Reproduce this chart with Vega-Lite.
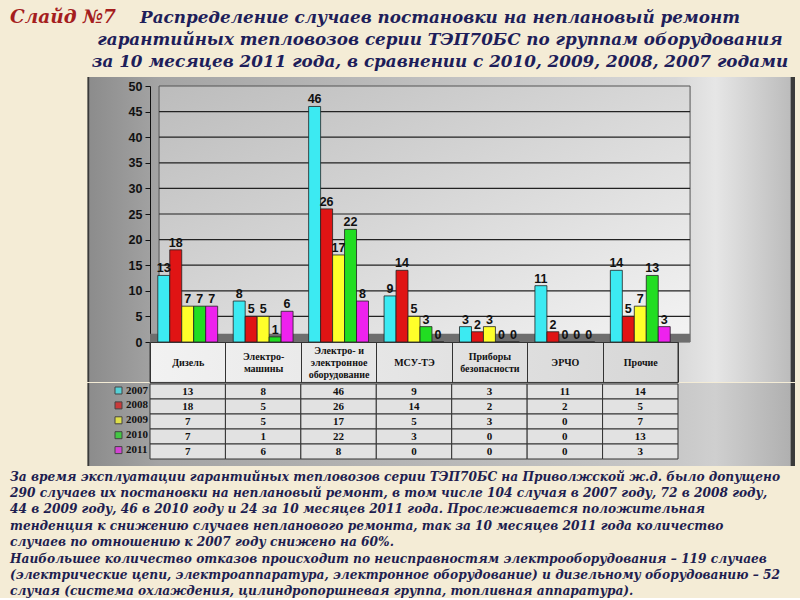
{
  "$schema": "https://vega.github.io/schema/vega-lite/v6.json",
  "background": "#F4ECD6",
  "padding": {"left": 0, "top": 8, "right": 5, "bottom": 0},
  "config": {"view": {"stroke": null}, "font": "DejaVu Serif", "axisY": {"labelOverlap": false}},
  "spacing": 0,
  "resolve": {
    "scale": {"x": "independent", "y": "independent", "color": "independent", "xOffset": "independent"},
    "legend": {"color": "independent"}
  },
  "datasets": {
    "counts": [
      {"category": "Дизель", "year": "2007", "value": 13},
      {"category": "Дизель", "year": "2008", "value": 18},
      {"category": "Дизель", "year": "2009", "value": 7},
      {"category": "Дизель", "year": "2010", "value": 7},
      {"category": "Дизель", "year": "2011", "value": 7},
      {"category": "Электро-машины", "year": "2007", "value": 8},
      {"category": "Электро-машины", "year": "2008", "value": 5},
      {"category": "Электро-машины", "year": "2009", "value": 5},
      {"category": "Электро-машины", "year": "2010", "value": 1},
      {"category": "Электро-машины", "year": "2011", "value": 6},
      {"category": "Электро- и электронное оборудование", "year": "2007", "value": 46},
      {"category": "Электро- и электронное оборудование", "year": "2008", "value": 26},
      {"category": "Электро- и электронное оборудование", "year": "2009", "value": 17},
      {"category": "Электро- и электронное оборудование", "year": "2010", "value": 22},
      {"category": "Электро- и электронное оборудование", "year": "2011", "value": 8},
      {"category": "МСУ-ТЭ", "year": "2007", "value": 9},
      {"category": "МСУ-ТЭ", "year": "2008", "value": 14},
      {"category": "МСУ-ТЭ", "year": "2009", "value": 5},
      {"category": "МСУ-ТЭ", "year": "2010", "value": 3},
      {"category": "МСУ-ТЭ", "year": "2011", "value": 0},
      {"category": "Приборы безопасности", "year": "2007", "value": 3},
      {"category": "Приборы безопасности", "year": "2008", "value": 2},
      {"category": "Приборы безопасности", "year": "2009", "value": 3},
      {"category": "Приборы безопасности", "year": "2010", "value": 0},
      {"category": "Приборы безопасности", "year": "2011", "value": 0},
      {"category": "ЭРЧО", "year": "2007", "value": 11},
      {"category": "ЭРЧО", "year": "2008", "value": 2},
      {"category": "ЭРЧО", "year": "2009", "value": 0},
      {"category": "ЭРЧО", "year": "2010", "value": 0},
      {"category": "ЭРЧО", "year": "2011", "value": 0},
      {"category": "Прочие", "year": "2007", "value": 14},
      {"category": "Прочие", "year": "2008", "value": 5},
      {"category": "Прочие", "year": "2009", "value": 7},
      {"category": "Прочие", "year": "2010", "value": 13},
      {"category": "Прочие", "year": "2011", "value": 3}
    ],
    "gridlines": [
      {"tick": 5}, {"tick": 10}, {"tick": 15}, {"tick": 20}, {"tick": 25},
      {"tick": 30}, {"tick": 35}, {"tick": 40}, {"tick": 45}
    ]
  },
  "vconcat": [
    {
      "spacing": 0,
      "bounds": "flush",
      "hconcat": [
        {
          "width": 92, "height": 1,
          "data": {"values": [{}]},
          "mark": {"type": "text"},
          "title": {
            "text": ["Слайд №7", " ", " "],
            "anchor": "start", "dx": 10, "offset": -5,
            "color": "#A51E1E", "font": "DejaVu Serif", "fontStyle": "italic", "fontWeight": "bold",
            "fontSize": 18.5, "lineHeight": 22
          }
        },
        {
          "width": 696, "height": 1,
          "data": {"values": [{}]},
          "mark": {"type": "text"},
          "title": {
            "text": [
              "Распределение случаев постановки на неплановый ремонт",
              "гарантийных тепловозов серии ТЭП70БС по группам оборудования",
              "за 10 месяцев 2011 года, в сравнении с 2010, 2009, 2008, 2007 годами"
            ],
            "anchor": "middle", "frame": "group", "offset": -5,
            "color": "#1E1E5A", "font": "DejaVu Serif", "fontStyle": "italic", "fontWeight": "bold",
            "fontSize": 16.8, "lineHeight": 22
          }
        }
      ]
    },
    {
      "width": 795, "height": 305,
      "view": {
        "stroke": null,
        "fill": {"gradient": "linear", "x1": 0, "y1": 0, "x2": 1, "y2": 0, "stops": [
          {"offset": 0, "color": "#F4ECD6"}, {"offset": 0.11, "color": "#F4ECD6"},
          {"offset": 0.1101, "color": "#3a3a3a"}, {"offset": 0.1125, "color": "#3a3a3a"},
          {"offset": 0.1126, "color": "#8c8c8c"}, {"offset": 0.2, "color": "#a4a4a4"},
          {"offset": 0.85, "color": "#d8d8d8"}, {"offset": 0.9, "color": "#e6e6e6"},
          {"offset": 0.994, "color": "#bcbcbc"}, {"offset": 0.995, "color": "#3a3a3a"},
          {"offset": 1, "color": "#3a3a3a"}
        ]}
      },
      "layer": [
        {
          "data": {"values": [{}]},
          "mark": {"type": "rect", "stroke": "#555555", "strokeWidth": 1,
            "fill": {"gradient": "linear", "x1": 0, "y1": 0, "x2": 1, "y2": 1, "stops": [
              {"offset": 0, "color": "#bcbcbc"}, {"offset": 1, "color": "#f4f4f4"}
            ]}},
          "encoding": {
            "x": {
              "datum": "Дизель", "type": "nominal", "bandPosition": 0.12,
              "scale": {
                "domain": ["Дизель", "Электро-машины", "Электро- и электронное оборудование", "МСУ-ТЭ", "Приборы безопасности", "ЭРЧО", "Прочие"],
                "range": [150, 678], "paddingInner": 0, "paddingOuter": 0
              },
              "axis": {
                "title": null, "orient": "bottom", "offset": -40, "zindex": 1, "bandPosition": 0.5,
                "tickBand": "extent", "tickSize": 40, "tickColor": "#333333", "tickWidth": 1,
                "domainColor": "#333333", "domainWidth": 1,
                "labelAngle": 0, "labelAlign": "center", "labelPadding": -25.4,
                "labelBaseline": {
                  "condition": [
                    {"test": "datum.value == 'Электро- и электронное оборудование'", "value": "line-bottom"},
                    {"test": "datum.value == 'Электро-машины' || datum.value == 'Приборы безопасности'", "value": "middle"}
                  ],
                  "value": "line-top"
                },
                "labelFont": "Liberation Serif", "labelFontWeight": "bold", "labelFontSize": 10,
                "labelLineHeight": 12, "labelColor": "#111111", "labelOverlap": false, "labelLimit": 0,
                "labelExpr": "datum.value == 'Электро-машины' ? ['Электро-', 'машины'] : datum.value == 'Электро- и электронное оборудование' ? ['Электро- и', 'электронное', 'оборудование'] : datum.value == 'Приборы безопасности' ? ['Приборы', 'безопасности'] : datum.label"
              }
            },
            "x2": {"datum": "Прочие", "bandPosition": 1.16},
            "y": {
              "datum": 50, "type": "quantitative",
              "scale": {"domain": [0, 50], "range": [265, 9], "nice": false},
              "axis": {
                "title": null, "orient": "left", "offset": -150, "values": [0, 5, 10, 15, 20, 25, 30, 35, 40, 45, 50], "tickCount": 11,
                "labelOverlap": false, "labelBound": false, "labelSeparation": 0, "grid": false, "tickSize": 5, "tickColor": "#111111", "domainColor": "#111111",
                "labelFont": "Liberation Sans", "labelFontWeight": "bold", "labelFontSize": 12.5, "labelColor": "#111111", "labelPadding": 3
              }
            },
            "y2": {"datum": 0}
          }
        },
        {
          "data": {"values": [{}]},
          "mark": {"type": "rect", "stroke": "#333333", "strokeWidth": 1,
            "fill": {"gradient": "linear", "x1": 0, "y1": 0, "x2": 1, "y2": 0, "stops": [
              {"offset": 0, "color": "#f2f2f2"}, {"offset": 1, "color": "#d6d6d6"}
            ]}},
          "encoding": {
            "x": {"datum": "Дизель", "type": "nominal", "bandPosition": 0},
            "x2": {"datum": "Прочие", "bandPosition": 1},
            "y": {"datum": 0, "type": "quantitative"},
            "y2": {"datum": -7.9}
          }
        },
        {
          "data": {"name": "gridlines"},
          "mark": {"type": "rect", "stroke": "#222222", "strokeWidth": 1.2, "fill": null},
          "encoding": {
            "x": {"datum": "Дизель", "type": "nominal", "bandPosition": 0.12},
            "x2": {"datum": "Прочие", "bandPosition": 1.16},
            "y": {"field": "tick", "type": "quantitative"},
            "y2": {"field": "tick"}
          }
        },
        {
          "data": {"values": [{}]},
          "mark": {"type": "rect", "fill": "#6e6e6e"},
          "encoding": {
            "x": {"datum": "Дизель", "type": "nominal", "bandPosition": 0},
            "x2": {"datum": "Прочие", "bandPosition": 1.16},
            "y": {"datum": 1.6, "type": "quantitative"},
            "y2": {"datum": 0}
          }
        },
        {
          "data": {"name": "counts"},
          "mark": {"type": "bar", "stroke": "#222222", "strokeWidth": 0.8},
          "encoding": {
            "x": {"field": "category", "type": "nominal"},
            "xOffset": {
              "field": "year", "type": "nominal",
              "scale": {"domain": ["2007", "2008", "2009", "2010", "2011"], "paddingInner": 0, "paddingOuter": 0.65}
            },
            "y": {"field": "value", "type": "quantitative"},
            "color": {
              "field": "year", "type": "nominal",
              "scale": {"domain": ["2007", "2008", "2009", "2010", "2011"], "range": ["#3CEAF2", "#E01414", "#FFFF2A", "#22DD22", "#EE22EE"]},
              "legend": null
            }
          }
        },
        {
          "data": {"name": "counts"},
          "mark": {"type": "text", "dy": -7, "font": "Liberation Sans", "fontWeight": "bold", "fontSize": 12.5, "color": "#111111"},
          "encoding": {
            "x": {"field": "category", "type": "nominal"},
            "xOffset": {"field": "year", "type": "nominal"},
            "y": {"field": "value", "type": "quantitative"},
            "text": {"field": "value", "type": "quantitative"}
          }
        }
      ]
    },
    {
      "width": 795, "height": 83,
      "view": {
        "stroke": null,
        "fill": {"gradient": "linear", "x1": 0, "y1": 0, "x2": 1, "y2": 0, "stops": [
          {"offset": 0, "color": "#F4ECD6"}, {"offset": 0.11, "color": "#F4ECD6"},
          {"offset": 0.1101, "color": "#3a3a3a"}, {"offset": 0.1125, "color": "#3a3a3a"},
          {"offset": 0.1126, "color": "#8c8c8c"}, {"offset": 0.2, "color": "#a4a4a4"},
          {"offset": 0.85, "color": "#c8c8c8"}, {"offset": 0.9, "color": "#cfcfcf"},
          {"offset": 0.994, "color": "#b0b0b0"}, {"offset": 0.995, "color": "#3a3a3a"},
          {"offset": 1, "color": "#3a3a3a"}
        ]}
      },
      "data": {"name": "counts"},
      "layer": [
        {
          "mark": {"type": "rect", "fill": "#e2e2e2", "stroke": "#333333", "strokeWidth": 1},
          "encoding": {
            "x": {
              "field": "category", "type": "nominal", "axis": null,
              "scale": {
                "domain": ["Дизель", "Электро-машины", "Электро- и электронное оборудование", "МСУ-ТЭ", "Приборы безопасности", "ЭРЧО", "Прочие"],
                "range": [150, 678], "paddingInner": 0, "paddingOuter": 0
              }
            },
            "y": {
              "field": "year", "type": "nominal", "axis": null,
              "scale": {"domain": ["2007", "2008", "2009", "2010", "2011"], "range": [1, 76], "paddingInner": 0, "paddingOuter": 0}
            }
          }
        },
        {
          "mark": {"type": "text", "font": "Liberation Serif", "fontWeight": "bold", "fontSize": 11, "color": "#111111"},
          "encoding": {
            "x": {"field": "category", "type": "nominal"},
            "y": {"field": "year", "type": "nominal"},
            "text": {"field": "value", "type": "quantitative"}
          }
        },
        {
          "mark": {"type": "point", "shape": "square", "filled": true, "size": 0},
          "encoding": {
            "x": {"field": "category", "type": "nominal"},
            "y": {"field": "year", "type": "nominal"},
            "color": {
              "field": "year", "type": "nominal",
              "scale": {"domain": ["2007", "2008", "2009", "2010", "2011"], "range": ["#3CEAF2", "#E01414", "#FFFF2A", "#22DD22", "#EE22EE"]},
              "legend": {
                "orient": "left", "offset": -150, "title": null, "padding": 2, "rowPadding": 2.9,
                "symbolType": "square", "symbolSize": 49, "symbolStrokeColor": "#222222", "symbolStrokeWidth": 1,
                "labelFont": "Liberation Serif", "labelFontWeight": "bold", "labelFontSize": 11, "labelColor": "#111111", "labelOffset": 2
              }
            }
          }
        }
      ]
    },
    {
      "width": 795, "height": 1,
      "data": {"values": [{}]},
      "mark": {"type": "text"},
      "title": {
        "text": [
          "За время эксплуатации гарантийных тепловозов серии ТЭП70БС на Приволжской ж.д. было допущено",
          "290 случаев их постановки на неплановый ремонт,  в том числе 104 случая в 2007 году, 72 в 2008 году,",
          "44 в 2009 году, 46 в 2010 году и 24 за 10 месяцев 2011 года. Прослеживается положительная",
          "тенденция к снижению случаев непланового ремонта, так за 10 месяцев 2011 года количество",
          "случаев по отношению к 2007 году снижено на 60%.",
          "Наибольшее количество отказов происходит по неисправностям электрооборудования – 119 случаев",
          "(электрические цепи, электроаппаратура, электронное оборудование) и дизельному оборудованию – 52",
          "случая (система охлаждения, цилиндропоршневая группа, топливная аппаратура)."
        ],
        "orient": "bottom", "anchor": "start", "dx": 10, "offset": -7,
        "color": "#1E1E50", "font": "DejaVu Serif", "fontStyle": "italic", "fontWeight": "bold",
        "fontSize": 12.2, "lineHeight": 16.4
      }
    }
  ]
}
